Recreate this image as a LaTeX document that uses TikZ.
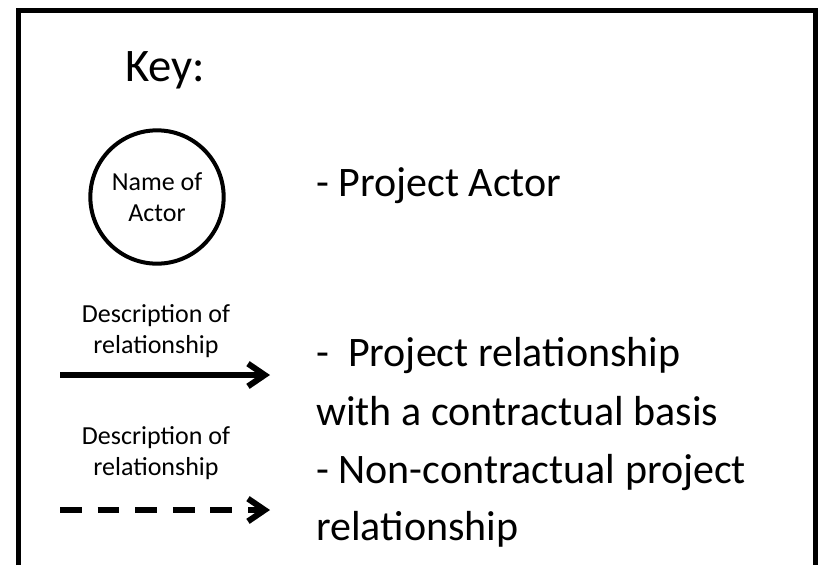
\documentclass[tikz,border=0pt]{standalone}
\usepackage{fontspec}
\setmainfont{Carlito}
\usetikzlibrary{arrows.meta}

\begin{document}
\begin{tikzpicture}[x=0.75pt,y=-0.75pt,>={Straight Barb[length=12.5pt,width=17pt]},
	small/.style={font=\fontsize{19.5pt}{23pt}\selectfont,align=center},
	big/.style={font=\fontsize{31.5pt}{38pt}\selectfont,anchor=base west,inner sep=0pt},
	link/.style={line width=4.5pt}]
\useasboundingbox (0,0) rectangle (829,565);
\def\descr#1#2{
	\node[small] (#1) at (156,#2) {Description of\\relationship};
}
% frame, open at the bottom
\draw[line width=3.75pt] (18,565) -- (18,10) -- (815,10) -- (815,565);

\node[font=\fontsize{35pt}{42pt}\selectfont,anchor=base,inner sep=0pt] (key) at (165,81) {Key:};

% actor
\node[small,circle,draw,line width=3pt,minimum size=100pt,inner sep=0pt] (actor) at (157,197) {Name of\\Actor};
\node[big] (actortxt) at (316,196) {- Project Actor};

% contractual relationship
\descr{d1}{331}
\coordinate (s1) at (60,375);
\coordinate (e1) at (270,375);
\draw[link,->] (s1) -- (e1);
\node[big] (c1) at (316,366) {-\ \ Project relationship};
\node[big] (c2) at (316,425) {with a contractual basis};

% non-contractual relationship
\descr{d2}{453}
\coordinate (s2) at (60,510);
\coordinate (e2) at (270,510);
\draw[link,->,dash pattern=on 16.3pt off 11.9pt] (s2) -- (e2);
\node[big] (n1) at (316,483) {- Non-contractual project};
\node[big] (n2) at (316,540) {relationship};
\end{tikzpicture}
\end{document}
